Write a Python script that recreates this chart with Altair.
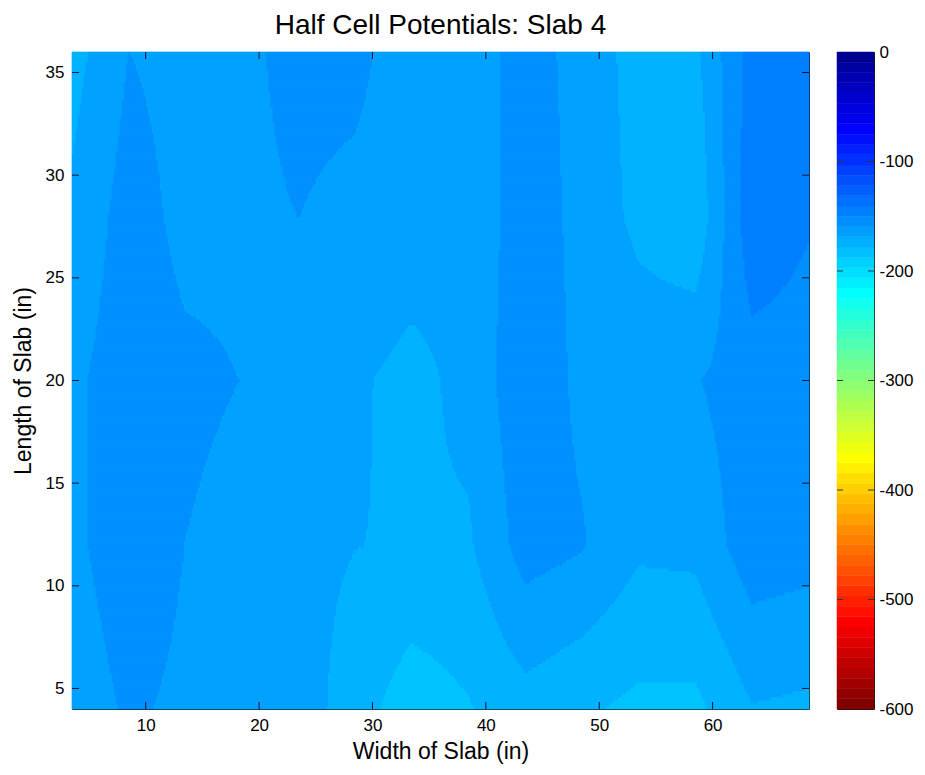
import altair as alt
import pandas as pd

# ---------------- data: half-cell potentials (mV) on the measurement grid ----------------
x_in = [3.5, 8.5, 13.5, 18.5, 23.5, 28.5, 33.5, 38.5, 43.5, 48.5, 53.5, 58.5, 63.5, 68.5]
y_in = [4, 12, 20, 28, 36]

hcp_y4 = [-165, -158.9, -161.5, -163, -164.7, -175.3, -186, -180.7, -173.9, -178.5, -182.3, -182.5, -170.6, -172]
hcp_y12 = [-162, -155, -160.05, -163, -167, -169.8, -171, -171.3, -155.6, -159.1, -168.25, -167.4, -154.0, -156]
hcp_y20 = [-162, -154.6, -158.1, -160.1, -165, -168.6, -173, -167, -152.4, -162.4, -163.6, -160.6, -154.6, -155]
hcp_y28 = [-168, -155.7, -162.6, -162, -159.95, -162.5, -164.4, -168, -153.7, -163.25, -172.4, -178, -142.8, -149.1]
hcp_y36 = [-174, -159.9, -163.2, -162, -157.2, -157.5, -165.3, -166, -155.3, -163.7, -173.9, -172.1, -145.8, -146]

level_step = 10                      # contour interval (mV)
cbar_range = [-600, 0]               # colour axis limits
cbar_colors = 64                     # entries in the colormap
cbar_ticks = [-600, -500, -400, -300, -200, -100, 0]
x_ticks = [10, 20, 30, 40, 50, 60]
y_ticks = [5, 10, 15, 20, 25, 30, 35]

# jet colormap (reversed: 0 -> dark blue, -600 -> dark red)
jet_domain = [-600, -525, -375, -225, -75, 0]
jet_range = ["#800000", "#ff0000", "#ffff00", "#00ffff", "#0000ff", "#000080"]

# ---------------- layout constants ----------------
W, H = 737, 657
CBW = 37
NX, NY = 368, 219                    # raster used to draw the filled contours
FONT = "Liberation Sans"

rows = [hcp_y4, hcp_y12, hcp_y20, hcp_y28, hcp_y36]
grid_records = [{"k": f"{i}_{j}", "v": row[i]} for j, row in enumerate(rows) for i in range(len(x_in))]
grid_data = alt.InlineData(values=grid_records)

X0, X1 = x_in[0], x_in[-1]
Y0, Y1 = y_in[0], y_in[-1]
GX = x_in[1] - x_in[0]
GY = y_in[1] - y_in[0]
NGX, NGY = len(x_in), len(y_in)
SX = (X1 - X0) / NX
SY = (Y1 - Y0) / NY

jet = alt.Scale(domain=jet_domain, range=jet_range, interpolate="rgb")
xs = alt.Scale(domain=[X0, X1], nice=False, zero=False)
ys = alt.Scale(domain=[Y0, Y1], nice=False, zero=False)
xaxis = alt.Axis(values=x_ticks, title="Width of Slab (in)", titlePadding=7)
yaxis = alt.Axis(values=y_ticks, title="Length of Slab (in)", titlePadding=10)


def lookup(ch, key, name):
    return ch.transform_lookup(lookup=key, from_=alt.LookupData(data=grid_data, key="k", fields=["v"]), as_=[name])


base = alt.Chart(alt.sequence(0, NX * NY, as_="i")).transform_calculate(
    col=f"datum.i % {NX}",
    row=f"floor(datum.i / {NX})",
).transform_calculate(
    gx=f"(datum.col + 0.5) * {SX} / {GX}",
    gy=f"(datum.row + 0.5) * {SY} / {GY}",
).transform_calculate(
    cx=f"min(floor(datum.gx), {NGX - 2})",
    cy=f"min(floor(datum.gy), {NGY - 2})",
).transform_calculate(
    tx="datum.gx - datum.cx",
    ty="datum.gy - datum.cy",
    k00="datum.cx + '_' + datum.cy",
    k10="(datum.cx + 1) + '_' + datum.cy",
    k01="datum.cx + '_' + (datum.cy + 1)",
    k11="(datum.cx + 1) + '_' + (datum.cy + 1)",
)
base = lookup(base, "k00", "v00")
base = lookup(base, "k10", "v10")
base = lookup(base, "k01", "v01")
base = lookup(base, "k11", "v11")

field = base.transform_calculate(
    v="(1-datum.tx)*(1-datum.ty)*datum.v00 + datum.tx*(1-datum.ty)*datum.v10"
      " + (1-datum.tx)*datum.ty*datum.v01 + datum.tx*datum.ty*datum.v11"
).transform_calculate(
    lvl=f"floor(datum.v / {level_step}) * {level_step}"
).transform_window(
    prev="lag(lvl)", groupby=["row"], sort=[alt.SortField("col", order="ascending")]
).transform_calculate(
    brk="(datum.prev == null || datum.prev != datum.lvl) ? 1 : 0"
).transform_window(
    run="sum(brk)", groupby=["row"], sort=[alt.SortField("col", order="ascending")], frame=[None, 0]
).transform_aggregate(
    c0="min(col)", c1="max(col)", groupby=["row", "run", "lvl"]
).transform_calculate(
    xa=f"{X0} + datum.c0 * {SX}",
    xb=f"{X0} + (datum.c1 + 1) * {SX}",
    ya=f"{Y0} + datum.row * {SY}",
    yb=f"{Y0} + (datum.row + 1) * {SY}",
).mark_rect(strokeWidth=0.7).encode(
    x=alt.X("xa:Q", scale=xs, axis=xaxis),
    x2="xb:Q",
    y=alt.Y("ya:Q", scale=ys, axis=yaxis),
    y2="yb:Q",
    color=alt.Color("lvl:Q", scale=jet, legend=None),
    stroke=alt.Stroke("lvl:Q", scale=jet, legend=None),
)

xt = pd.DataFrame({"t": x_ticks})
yt = pd.DataFrame({"t": y_ticks})
tick_color = "#111133"
xb_ticks = alt.Chart(xt).mark_rule(color=tick_color).encode(
    x=alt.X("t:Q", scale=xs, axis=xaxis), y=alt.value(H), y2=alt.value(H - 7))
xtop_ticks = alt.Chart(xt).mark_rule(color=tick_color).encode(
    x=alt.X("t:Q", scale=xs, axis=xaxis), y=alt.value(0), y2=alt.value(7))
yl_ticks = alt.Chart(yt).mark_rule(color=tick_color).encode(
    y=alt.Y("t:Q", scale=ys, axis=yaxis), x=alt.value(0), x2=alt.value(7))
yr_ticks = alt.Chart(yt).mark_rule(color=tick_color).encode(
    y=alt.Y("t:Q", scale=ys, axis=yaxis), x=alt.value(W), x2=alt.value(W - 7))

main = alt.layer(field, xb_ticks, xtop_ticks, yl_ticks, yr_ticks).properties(
    width=W, height=H,
    title=alt.TitleParams("Half Cell Potentials: Slab 4", fontSize=28, font=FONT, fontWeight="normal",
                          color="black", anchor="middle", frame="group", offset=12),
)

# ---------------- colorbar ----------------
cstep = (cbar_range[1] - cbar_range[0]) / cbar_colors
cys = alt.Scale(domain=cbar_range, nice=False, zero=False)
cb_axis = alt.Axis(orient="right", values=cbar_ticks, title=None, labelFlush=False, labelPadding=5,
                   labelExpr="'' + datum.value")
cb_rect = alt.Chart(alt.sequence(cbar_range[0], cbar_range[1], cstep, as_="lo")).transform_calculate(
    hi=f"datum.lo + {cstep}"
).mark_rect(strokeWidth=0.5).encode(
    y=alt.Y("lo:Q", scale=cys, axis=cb_axis),
    y2="hi:Q",
    x=alt.value(0), x2=alt.value(CBW),
    color=alt.Color("lo:Q", scale=jet, legend=None),
    stroke=alt.Stroke("lo:Q", scale=jet, legend=None),
)
cb_inner = pd.DataFrame({"t": cbar_ticks[1:-1]})
cb_tl = alt.Chart(cb_inner).mark_rule(color="#333333").encode(
    y=alt.Y("t:Q", scale=cys, axis=cb_axis), x=alt.value(0), x2=alt.value(6))
cb_tr = alt.Chart(cb_inner).mark_rule(color="#333333").encode(
    y=alt.Y("t:Q", scale=cys, axis=cb_axis), x=alt.value(CBW), x2=alt.value(CBW - 6))
colorbar = alt.layer(cb_rect, cb_tl, cb_tr).properties(width=CBW, height=H)

chart = alt.hconcat(main, colorbar, spacing=28, bounds="flush").properties(
    padding={"left": 11, "top": 11, "right": 5, "bottom": 5}
).configure_view(
    stroke="#1a1a1a", strokeWidth=1
).configure_axis(
    labelFont=FONT, labelFontSize=17, labelColor="black",
    titleFont=FONT, titleFontSize=23, titleFontWeight="normal", titleColor="black",
    ticks=False, tickSize=0, domain=False, grid=False, labelPadding=8,
)

chart.save("out.html", embed_options={"renderer": "svg", "actions": False})
